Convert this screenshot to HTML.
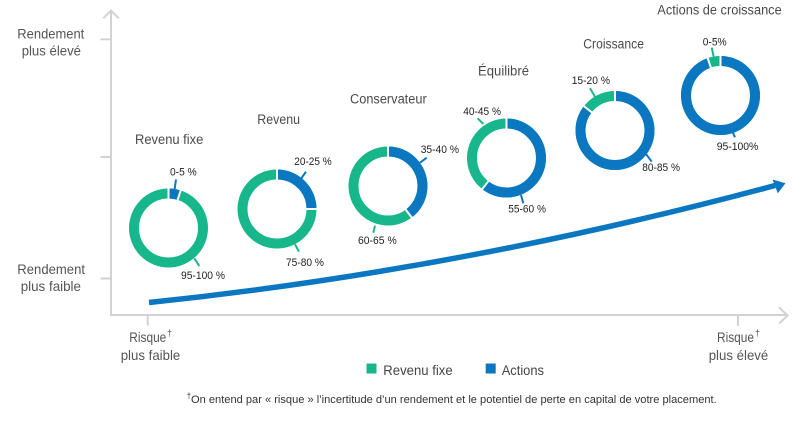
<!DOCTYPE html>
<html><head><meta charset="utf-8"><style>
html,body{margin:0;padding:0;background:#fff;}
svg{display:block;font-family:"Liberation Sans",Arial,sans-serif;}
</style></head><body>
<svg width="802" height="422" viewBox="0 0 802 422" xmlns="http://www.w3.org/2000/svg">
<!-- axes -->
<g stroke="#d2d2d2" stroke-width="2" fill="none">
<line x1="111" y1="10" x2="111" y2="316"/>
<polyline points="103.3,18.3 111,10.5 118.7,18.3"/>
<line x1="110" y1="315" x2="788" y2="315"/>
<polyline points="779,307.3 787.5,315.5 779,323.7"/>
<line x1="100.5" y1="39.3" x2="111" y2="39.3"/>
<line x1="100.5" y1="157" x2="111" y2="157"/>
<line x1="100.5" y1="278.5" x2="111" y2="278.5"/>
<line x1="147.7" y1="315" x2="147.7" y2="325.5"/>
<line x1="738" y1="315" x2="738" y2="326"/>
</g>
<!-- trend arrow -->
<path d="M149,302.5 Q461,270 775,185.5" stroke="#0c77c1" stroke-width="5.5" fill="none"/>
<polygon points="785.5,183.3 772.5,179.5 777.8,193.2" fill="#0c77c1"/>

<!-- axis labels -->
<g fill="#555" font-size="14">
<text x="17.3" y="38.3" textLength="67" lengthAdjust="spacingAndGlyphs">Rendement</text>
<text x="21.7" y="55.5" textLength="59.3" lengthAdjust="spacingAndGlyphs">plus élevé</text>
<text x="17.3" y="274" textLength="67.7" lengthAdjust="spacingAndGlyphs">Rendement</text>
<text x="20.7" y="291" textLength="60.3" lengthAdjust="spacingAndGlyphs">plus faible</text>
<text x="129.3" y="342" textLength="37" lengthAdjust="spacingAndGlyphs">Risque</text>
<text x="167" y="336" font-size="9">†</text>
<text x="120.7" y="360" textLength="59.6" lengthAdjust="spacingAndGlyphs">plus faible</text>
<text x="717" y="342" textLength="37" lengthAdjust="spacingAndGlyphs">Risque</text>
<text x="755" y="336" font-size="9">†</text>
<text x="708.7" y="360" textLength="59.6" lengthAdjust="spacingAndGlyphs">plus élevé</text>
</g>

<!-- titles -->
<g fill="#4a4a4a" font-size="13.5">
<text x="135" y="144" textLength="68.3" lengthAdjust="spacingAndGlyphs">Revenu fixe</text>
<text x="257.3" y="124" textLength="42.7" lengthAdjust="spacingAndGlyphs">Revenu</text>
<text x="350" y="103.3" textLength="76.7" lengthAdjust="spacingAndGlyphs">Conservateur</text>
<text x="478" y="75.5" textLength="51" lengthAdjust="spacingAndGlyphs">Équilibré</text>
<text x="583.3" y="48.3" textLength="60.7" lengthAdjust="spacingAndGlyphs">Croissance</text>
<text x="657.3" y="14.3" textLength="124.4" lengthAdjust="spacingAndGlyphs">Actions de croissance</text>
</g>

<!-- donuts -->
<g fill="none" stroke-width="10">
<circle cx="168.5" cy="228" r="34.5" stroke="#17b78b"/>
<circle cx="168.5" cy="228" r="34.5" stroke="#0c77c1" stroke-dasharray="10.84 300" transform="rotate(-90 168.5 228)"/>
<circle cx="277" cy="209" r="34.5" stroke="#17b78b"/>
<circle cx="277" cy="209" r="34.5" stroke="#0c77c1" stroke-dasharray="54.19 300" transform="rotate(-90 277 209)"/>
<circle cx="388" cy="186" r="34.5" stroke="#17b78b"/>
<circle cx="388" cy="186" r="34.5" stroke="#0c77c1" stroke-dasharray="86.11 300" transform="rotate(-90 388 186)"/>
<circle cx="506.5" cy="158" r="34.5" stroke="#17b78b"/>
<circle cx="506.5" cy="158" r="34.5" stroke="#0c77c1" stroke-dasharray="131.27 300" transform="rotate(-90 506.5 158)"/>
<circle cx="615" cy="130.5" r="34.5" stroke="#17b78b"/>
<circle cx="615" cy="130.5" r="34.5" stroke="#0c77c1" stroke-dasharray="185.46 300" transform="rotate(-90 615 130.5)"/>
<circle cx="720.5" cy="95.5" r="34.5" stroke="#17b78b"/>
<circle cx="720.5" cy="95.5" r="34.5" stroke="#0c77c1" stroke-dasharray="205.33 300" transform="rotate(-90 720.5 95.5)"/>
</g>
<!-- gaps -->
<g stroke="#fff" stroke-width="2">
<line x1="168.5" y1="187" x2="168.5" y2="200"/>
<line x1="177.15" y1="201.37" x2="181.17" y2="189"/>
<line x1="277" y1="168" x2="277" y2="181"/>
<line x1="305" y1="209" x2="318" y2="209"/>
<line x1="388" y1="145" x2="388" y2="158"/>
<line x1="404.85" y1="208.37" x2="412.68" y2="218.76"/>
<line x1="506.5" y1="117" x2="506.5" y2="130"/>
<line x1="489.26" y1="180.06" x2="481.25" y2="190.31"/>
<line x1="615" y1="89.5" x2="615" y2="102.5"/>
<line x1="592.94" y1="113.25" x2="582.69" y2="105.24"/>
<line x1="720.5" y1="54.5" x2="720.5" y2="67.5"/>
<line x1="711.37" y1="69.01" x2="707.13" y2="56.71"/>
</g>
<!-- leaders -->
<g stroke-width="2">
<line x1="176" y1="179.5" x2="174.5" y2="190" stroke="#0c77c1"/>
<line x1="194.3" y1="258.3" x2="199.3" y2="266" stroke="#17b78b"/>
<line x1="306" y1="171.7" x2="301.3" y2="178.3" stroke="#0c77c1"/>
<line x1="295" y1="244.3" x2="299" y2="251.7" stroke="#17b78b"/>
<line x1="426.7" y1="157.7" x2="420" y2="162.7" stroke="#0c77c1"/>
<line x1="375" y1="225.7" x2="373.3" y2="232.7" stroke="#17b78b"/>
<line x1="477.7" y1="118.3" x2="483.3" y2="124" stroke="#17b78b"/>
<line x1="521" y1="195" x2="523.3" y2="203.3" stroke="#0c77c1"/>
<line x1="590" y1="88.3" x2="595" y2="96.7" stroke="#17b78b"/>
<line x1="646" y1="154" x2="651.7" y2="161.7" stroke="#0c77c1"/>
<line x1="711.7" y1="47.7" x2="714" y2="58.3" stroke="#17b78b"/>
<line x1="731.7" y1="130" x2="735" y2="137.3" stroke="#0c77c1"/>
</g>
<!-- labels -->
<g fill="#222" font-size="11">
<text x="170" y="175.5" textLength="26.7" lengthAdjust="spacingAndGlyphs">0-5 %</text>
<text x="181" y="279" textLength="44" lengthAdjust="spacingAndGlyphs">95-100 %</text>
<text x="294.3" y="165" textLength="37.4" lengthAdjust="spacingAndGlyphs">20-25 %</text>
<text x="286" y="266" textLength="38" lengthAdjust="spacingAndGlyphs">75-80 %</text>
<text x="420.7" y="153" textLength="38.3" lengthAdjust="spacingAndGlyphs">35-40 %</text>
<text x="358" y="244" textLength="38.7" lengthAdjust="spacingAndGlyphs">60-65 %</text>
<text x="463.3" y="115" textLength="37.7" lengthAdjust="spacingAndGlyphs">40-45 %</text>
<text x="508.3" y="212.5" textLength="37.7" lengthAdjust="spacingAndGlyphs">55-60 %</text>
<text x="571.7" y="84" textLength="38.3" lengthAdjust="spacingAndGlyphs">15-20 %</text>
<text x="642.3" y="171" textLength="37.7" lengthAdjust="spacingAndGlyphs">80-85 %</text>
<text x="702.7" y="45.5" textLength="24" lengthAdjust="spacingAndGlyphs">0-5%</text>
<text x="716.7" y="150" textLength="41.6" lengthAdjust="spacingAndGlyphs">95-100%</text>
</g>

<!-- legend -->
<rect x="366.5" y="363.5" width="10" height="10" fill="#17b78b"/>
<text x="383.3" y="375" font-size="14" fill="#444" textLength="69.4" lengthAdjust="spacingAndGlyphs">Revenu fixe</text>
<rect x="485.7" y="363.5" width="10" height="10" fill="#0c77c1"/>
<text x="501.7" y="375" font-size="14" fill="#444" textLength="42.3" lengthAdjust="spacingAndGlyphs">Actions</text>

<!-- footnote -->
<text x="186.7" y="398.5" font-size="8" fill="#333">†</text>
<text x="191" y="403" font-size="11" fill="#333" textLength="525.7" lengthAdjust="spacingAndGlyphs">On entend par « risque » l’incertitude d’un rendement et le potentiel de perte en capital de votre placement.</text>
</svg>
</body></html>
